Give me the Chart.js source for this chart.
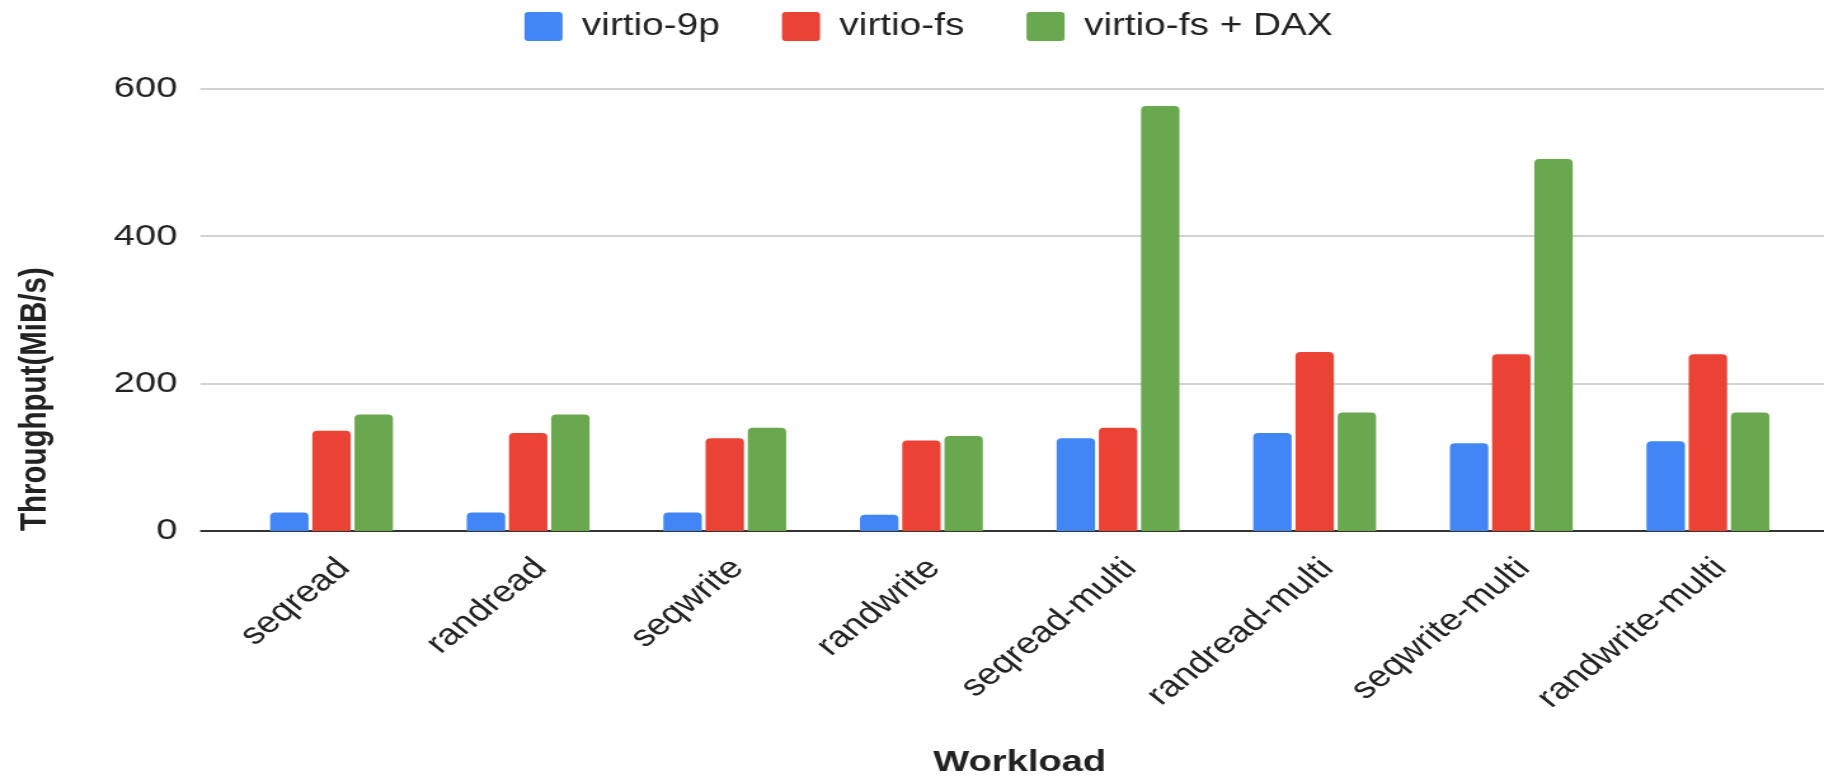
<!DOCTYPE html>
<html>
<head>
<meta charset="utf-8">
<script src="https://cdn.jsdelivr.net/npm/chart.js@4/dist/chart.umd.min.js"></script>
<style>
  html, body { margin: 0; padding: 0; background: #ffffff; overflow: hidden; }
  /* the drawing surface is widened by CSS so glyphs get the same broad look as the original export */
  #chart { display: block; width: 1824px !important; height: 778px !important; }
</style>
</head>
<body>
<canvas id="chart" width="1436" height="778" style="width:1824px;height:778px"></canvas>
<script>
// ---- data ----
const categories = ['seqread', 'randread', 'seqwrite', 'randwrite',
                    'seqread-multi', 'randread-multi', 'seqwrite-multi', 'randwrite-multi'];
const virtio9p    = [25, 25, 25, 22, 126, 133, 119, 122];
const virtioFs    = [136, 133, 126, 123, 140, 243, 240, 240];
const virtioFsDax = [158, 158, 140, 129, 577, 161, 505, 161];
const seriesNames = ['virtio-9p', 'virtio-fs', 'virtio-fs + DAX'];
const yTickStep = 200;
const yMax = 600;

// ---- styling ----
const seriesColors = ['#4285F4', '#EA4335', '#6AA84F'];
const FONT = "'Liberation Sans', Arial, sans-serif";
const TEXT = '#222222';

// Horizontal gridlines reach from beside the tick labels to the right edge of the canvas.
const wideGrid = {
  id: 'wideGrid',
  beforeDatasetsDraw(chart) {
    const { ctx, chartArea, scales: { y } } = chart;
    const x0 = chartArea.left - 26;
    ctx.save();
    y.ticks.forEach(t => {
      const py = Math.round(y.getPixelForValue(t.value));
      ctx.beginPath();
      ctx.lineWidth = 2;
      ctx.strokeStyle = t.value === 0 ? '#333333' : '#d2d2d2';
      ctx.moveTo(x0, py);
      ctx.lineTo(chart.width, py);
      ctx.stroke();
    });
    ctx.restore();
  }
};

// Leaves a gap between the legend row and the plot area.
const legendGap = {
  id: 'legendGap',
  beforeInit(chart) {
    const fit = chart.legend.fit;
    chart.legend.fit = function () {
      fit.call(this);
      this.height += 37.25;
    };
  }
};

const series = [virtio9p, virtioFs, virtioFsDax];
const datasets = series.map((values, i) => ({
  label: seriesNames[i],
  data: values,
  backgroundColor: seriesColors[i],
  borderWidth: 0,
  borderRadius: 4,
  barPercentage: 0.91,
  categoryPercentage: 0.644
}));

new Chart(document.getElementById('chart'), {
  type: 'bar',
  data: { labels: categories, datasets },
  plugins: [wideGrid, legendGap],
  options: {
    responsive: false,
    animation: false,
    devicePixelRatio: 1,
    layout: { padding: { top: -37.75, left: 40, right: 14, bottom: 0 } },
    plugins: {
      legend: {
        position: 'top',
        align: 'center',
        labels: {
          font: { family: FONT, size: 30.5 },
          color: TEXT,
          boxWidth: 30,
          boxHeight: 29,
          padding: 49,
          useBorderRadius: true,
          borderRadius: 3
        }
      },
      tooltip: { enabled: false }
    },
    scales: {
      x: {
        grid: { display: false, drawTicks: false },
        border: { display: false },
        ticks: {
          font: { family: FONT, size: 30 },
          color: TEXT,
          minRotation: 45,
          maxRotation: 45,
          padding: 20,
          labelOffset: 10,
          autoSkip: false
        },
        title: {
          display: true,
          text: 'Workload',
          font: { family: FONT, size: 30, weight: 'bold', lineHeight: 1 },
          color: TEXT,
          padding: 0
        },
        afterFit(scale) { scale.height = 247; }
      },
      y: {
        min: 0,
        max: yMax,
        grid: { display: false, drawTicks: false },
        border: { display: false },
        ticks: {
          stepSize: yTickStep,
          font: { family: FONT, size: 30 },
          color: TEXT,
          padding: 44
        },
        title: {
          display: true,
          text: 'Throughput(MiB/s)',
          align: 'start',
          font: { family: FONT, size: 29.5, weight: 'bold' },
          color: TEXT,
          padding: { top: -30, bottom: 0 }
        },
        afterFit(scale) { scale.width = 143.6; }
      }
    }
  }
});
</script>
</body>
</html>
